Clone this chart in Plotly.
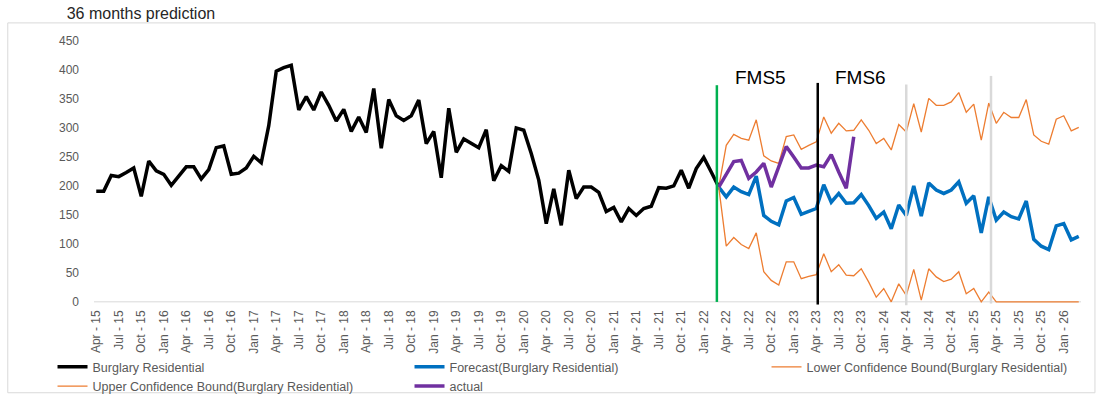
import pandas as pd
import plotly.graph_objects as go

# ---- data -----------------------------------------------------------------
month_labels = list(pd.date_range("2015-04-01", periods=132, freq="MS").strftime("%b - %y"))

burglary_residential = [
    191, 191, 218, 216, 223, 231, 182, 243, 226, 220, 201, 217,
    233, 233, 212, 228, 266, 269, 220, 222, 231, 251, 240, 304,
    398, 404, 408, 331, 354, 331, 362, 339, 312, 332, 294, 319,
    292, 368, 265, 349, 321, 313, 321, 348, 273, 294, 214, 334,
    258, 281, 273, 266, 297, 209, 235, 225, 300, 296, 256, 210,
    135, 195, 132, 227, 178, 198, 198, 189, 156, 163, 138, 161,
    149, 161, 165, 197, 196, 200, 227, 196, 230, 249, 224, 198,
]

forecast = [
    198, 181, 198, 190, 185, 217, 149, 139, 133, 174, 180, 151,
    156, 161, 202, 172, 187, 170, 171, 185, 166, 144, 155, 126,
    167, 149, 200, 148, 205, 193, 187, 193, 207, 170, 183, 119,
    181, 141, 155, 147, 143, 174, 108, 96, 90, 131, 135, 107, 113,
]

lower_bound = [
    198, 96, 111, 99, 92, 119, 52, 37, 29, 69, 69, 40,
    44, 47, 83, 52, 64, 46, 45, 57, 34, 8, 23, 0,
    31, 11, 56, 3, 57, 43, 35, 39, 52, 14, 23, 0,
    17, 0, 0, 0, 0, 0, 0, 0, 0, 0, 0, 0, 0,
]

upper_bound = [
    198, 270, 289, 282, 279, 314, 252, 243, 239, 285, 288, 263,
    270, 276, 319, 291, 308, 295, 296, 314, 296, 273, 282, 262,
    306, 293, 342, 293, 351, 339, 339, 345, 361, 327, 341, 279,
    343, 308, 327, 318, 318, 349, 288, 277, 272, 315, 321, 295, 301,
]

actual = [
    198, 220, 242, 244, 213, 224, 239, 198, 233, 268, 250, 231,
    231, 236, 233, 254, 224, 196, 285,
]

hist_x = month_labels[:len(burglary_residential)]
fc_start = len(burglary_residential) - 1
fc_x = month_labels[fc_start:fc_start + len(forecast)]
act_x = month_labels[fc_start:fc_start + len(actual)]

# ---- page geometry (pixels) -----------------------------------------------
W, H = 1101, 395
PLOT_L, PLOT_R = 94.45, 1080.55
Y_TOP_PX, Y_ZERO_PX = 40.8, 301.6          # pixel rows of 450 and 0
Y_MIN, Y_MAX = -2, 450                      # small pad so the 0-line is not clipped
PX_PER_UNIT = (Y_ZERO_PX - Y_TOP_PX) / Y_MAX
PLOT_T = Y_TOP_PX
PLOT_B = Y_ZERO_PX - Y_MIN * PX_PER_UNIT


def paper_x(px):
    return (px - PLOT_L) / (PLOT_R - PLOT_L)


def paper_y(py):
    return (PLOT_B - py) / (PLOT_B - PLOT_T)


FONT = "Liberation Sans, Arial, sans-serif"
GREY_TEXT = "#595959"

fig = go.Figure()

fig.add_trace(go.Scatter(
    x=hist_x, y=burglary_residential, mode="lines",
    name="Burglary Residential",
    line=dict(color="#000000", width=3.5),
))
fig.add_trace(go.Scatter(
    x=fc_x, y=forecast, mode="lines",
    name="Forecast(Burglary Residential)",
    line=dict(color="#0070C0", width=3.5),
))
fig.add_trace(go.Scatter(
    x=fc_x, y=lower_bound, mode="lines",
    name="Lower Confidence Bound(Burglary Residential)",
    line=dict(color="#ED7D31", width=1.3),
))
fig.add_trace(go.Scatter(
    x=fc_x, y=upper_bound, mode="lines",
    name="Upper Confidence Bound(Burglary Residential)",
    line=dict(color="#ED7D31", width=1.3),
))
fig.add_trace(go.Scatter(
    x=act_x, y=actual, mode="lines",
    name="actual",
    line=dict(color="#7030A0", width=3.5),
))

shapes = []

# horizontal category axis line at 0, under the series
shapes.append(dict(
    type="line", xref="paper", yref="y", x0=0, x1=1, y0=0, y1=0,
    line=dict(color="#D9D9D9", width=1), layer="below",
))

# vertical period markers: (category position, top px, bottom px, colour)
markers = [
    (82.75, 85.0, 301.7, "#00B050"),
    (96.2, 82.7, 304.3, "#000000"),
    (108.0, 84.3, 305.0, "#D9D9D9"),
    (119.3, 75.7, 303.3, "#D9D9D9"),
]
for xpos, top_px, bot_px, col in markers:
    shapes.append(dict(
        type="line", xref="x", yref="paper",
        x0=xpos, x1=xpos, y0=paper_y(bot_px), y1=paper_y(top_px),
        line=dict(color=col, width=2.5), layer="above",
    ))

# outer chart frame
shapes.append(dict(
    type="rect", xref="paper", yref="paper",
    x0=paper_x(8.3), x1=paper_x(1094.5), y0=paper_y(392.5), y1=paper_y(22.7),
    line=dict(color="#D9D9D9", width=1), fillcolor="rgba(0,0,0,0)", layer="below",
))

annotations = [
    dict(text="FMS5", x=88.5, y=paper_y(77.5), xref="x", yref="paper",
         showarrow=False, font=dict(family=FONT, size=19, color="#000000"),
         xanchor="center", yanchor="middle"),
    dict(text="FMS6", x=101.9, y=paper_y(77.5), xref="x", yref="paper",
         showarrow=False, font=dict(family=FONT, size=19, color="#000000"),
         xanchor="center", yanchor="middle"),
]

fig.update_layout(
    width=W, height=H,
    margin=dict(l=PLOT_L, r=W - PLOT_R, t=PLOT_T, b=H - PLOT_B, autoexpand=False),
    paper_bgcolor="white", plot_bgcolor="white",
    font=dict(family=FONT, color=GREY_TEXT),
    title=dict(
        text="36 months prediction",
        x=66.7 / W, xref="container", xanchor="left",
        y=1 - 13.3 / H, yref="container", yanchor="middle",
        font=dict(family=FONT, size=16, color="#262626"),
    ),
    xaxis=dict(
        type="category", range=[-0.3, 131.3],
        tickmode="array", tickvals=month_labels[::3],
        tickangle=-90, tickfont=dict(family=FONT, size=12, color=GREY_TEXT),
        showgrid=False, zeroline=False, showline=False,
        ticks="", ticklabelstandoff=4,
    ),
    yaxis=dict(
        range=[Y_MIN, Y_MAX], tickmode="array",
        tickvals=list(range(0, 451, 50)),
        tickfont=dict(family=FONT, size=12, color=GREY_TEXT),
        showgrid=False, zeroline=False, showline=False,
        ticks="", ticklabelstandoff=14,
    ),
    legend=dict(
        orientation="h", xref="paper", yref="paper",
        x=paper_x(53), xanchor="left",
        y=paper_y(352), yanchor="top",
        entrywidth=312, entrywidthmode="pixels",
        font=dict(family=FONT, size=12.5, color=GREY_TEXT),
        bgcolor="rgba(0,0,0,0)", traceorder="normal",
    ),
    shapes=shapes,
    annotations=annotations,
    showlegend=True,
)

fig.write_html("out.html")
